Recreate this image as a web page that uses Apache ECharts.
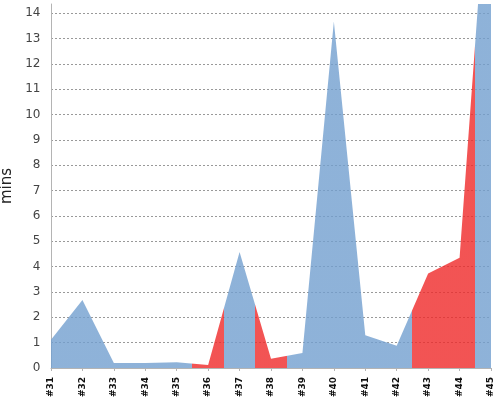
<!DOCTYPE html>
<html>
<head>
<meta charset="utf-8">
<script src="https://cdn.jsdelivr.net/npm/echarts@6/dist/echarts.min.js"></script>
<style>
  html, body { margin: 0; padding: 0; background: #fff; }
  #chart { width: 500px; height: 400px; }
</style>
</head>
<body>
<div id="chart"></div>
<script>
// build numbers, durations (minutes) and results
const builds = ['#31', '#32', '#33', '#34', '#35', '#36', '#37', '#38',
                '#39', '#40', '#41', '#42', '#43', '#44', '#45'];
const durations = [1.12, 2.68, 0.2, 0.2, 0.23, 0.12, 4.58, 0.37,
                   0.59, 13.68, 1.29, 0.88, 3.73, 4.35, 21.4];
const results = ['ok', 'ok', 'ok', 'ok', 'ok', 'fail', 'ok', 'fail',
                 'ok', 'ok', 'ok', 'ok', 'fail', 'fail', 'ok'];

const colors = { ok: '#729fcf', fail: '#ef2929' };

// each build owns the band half way to its neighbours
function makePieces() {
    const pieces = [];
    let start = 0;
    for (let i = 1; i <= results.length; i++) {
        if (i === results.length || results[i] !== results[start]) {
            pieces.push({
                gt: start - 0.5,
                lte: i - 0.5,
                color: colors[results[start]]
            });
            start = i;
        }
    }
    return pieces;
}

const chart = echarts.init(document.getElementById('chart'));

const option = {
    animation: false,
    grid: { left: 51, right: 9, top: 4, bottom: 32, outerBoundsMode: 'none' },
    visualMap: {
        type: 'piecewise',
        show: false,
        dimension: 0,
        seriesIndex: 0,
        pieces: makePieces()
    },
    xAxis: {
        type: 'value',
        min: 0,
        max: builds.length - 1,
        interval: 1,
        offset: 4,
        axisLine: { lineStyle: { color: '#b4b4b4', width: 1 } },
        axisTick: { show: true, length: 3, lineStyle: { color: '#b4b4b4' } },
        axisLabel: {
            rotate: 90,
            margin: 5,
            fontFamily: 'DejaVu Sans',
            fontSize: 9,
            fontWeight: 'bold',
            color: '#111',
            formatter: function (v) { return builds[v]; }
        },
        splitLine: { show: false }
    },
    yAxis: {
        type: 'value',
        min: 0,
        max: 14.37,
        interval: 1,
        offset: 3.5,
        name: 'mins',
        nameLocation: 'middle',
        nameGap: 28,
        nameTextStyle: {
            fontFamily: 'DejaVu Sans',
            fontSize: 15,
            color: '#222'
        },
        axisLine: { show: true, lineStyle: { color: '#b4b4b4', width: 1 } },
        axisTick: { show: false },
        axisLabel: {
            margin: 7,
            fontFamily: 'DejaVu Sans',
            fontSize: 12,
            color: '#444',
            showMaxLabel: false
        },
        splitLine: {
            show: true,
            showMaxLine: false,
            lineStyle: { color: '#999', type: [2, 2], width: 1 }
        }
    },
    series: [
        {
            type: 'line',
            data: durations.map(function (d, i) { return [i, d]; }),
            symbol: 'none',
            clip: true,
            lineStyle: { width: 0 },
            areaStyle: { opacity: 0.8 }
        }
    ]
};

chart.setOption(option);
</script>
</body>
</html>
